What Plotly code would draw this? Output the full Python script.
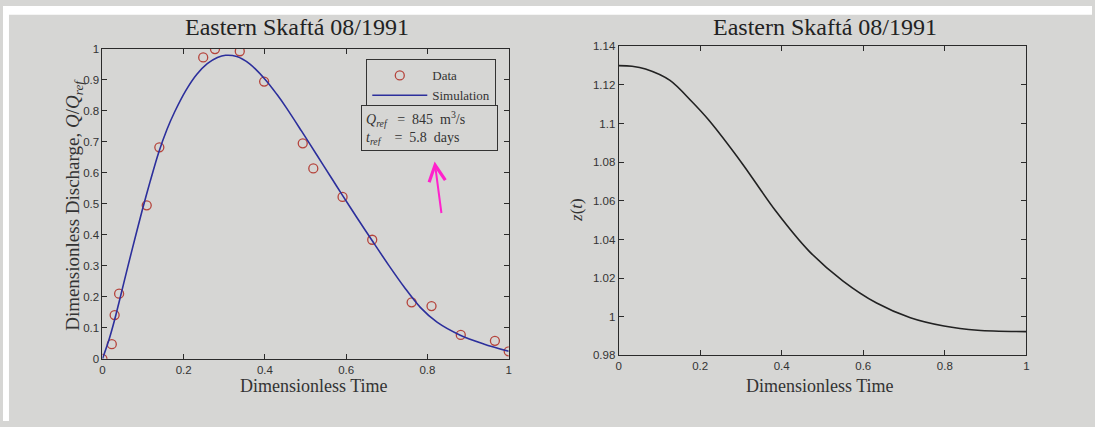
import plotly.graph_objects as go

# ---- data ----
data_t = [0, 0.023, 0.030, 0.041, 0.109, 0.140, 0.248, 0.277, 0.338, 0.398,
          0.493, 0.519, 0.591, 0.664, 0.761, 0.810, 0.882, 0.966, 1.0]
data_q = [0, 0.047, 0.141, 0.210, 0.495, 0.682, 0.972, 0.999, 0.992, 0.894,
          0.695, 0.614, 0.522, 0.384, 0.182, 0.170, 0.077, 0.058, 0.024]

sim_t = [0, 0.0155, 0.029, 0.0413, 0.062, 0.0842, 0.0979, 0.1176, 0.139, 0.1585,
         0.1776, 0.2051, 0.2319, 0.258, 0.283, 0.303, 0.3306, 0.3616, 0.4005,
         0.4293, 0.452, 0.4898, 0.5273, 0.5653, 0.5905, 0.6266, 0.665, 0.704,
         0.7435, 0.783, 0.8235, 0.8807, 0.9383, 1.0]
sim_q = [0, 0.059, 0.121, 0.185, 0.295, 0.410, 0.479, 0.573, 0.668, 0.739,
         0.796, 0.865, 0.917, 0.952, 0.972, 0.979, 0.975, 0.952, 0.901,
         0.853, 0.811, 0.735, 0.658, 0.580, 0.528, 0.455, 0.379, 0.303,
         0.230, 0.165, 0.118, 0.076, 0.048, 0.024]

z_t = [0, 0.033, 0.066, 0.126, 0.18, 0.2215, 0.3025, 0.3845, 0.467, 0.5497,
       0.6327, 0.7155, 0.798, 0.8805, 1.0]
z_v = [1.130, 1.1297, 1.1283, 1.1224, 1.1113, 1.1017, 1.0795, 1.055, 1.034,
       1.0186, 1.0071, 0.9995, 0.9952, 0.993, 0.9923]

x_ticks = [0, 0.2, 0.4, 0.6, 0.8, 1]
x_ticklabels = ["0", "0.2", "0.4", "0.6", "0.8", "1"]
q_ticks = [0, 0.1, 0.2, 0.3, 0.4, 0.5, 0.6, 0.7, 0.8, 0.9, 1]
q_ticklabels = ["0", "0.1", "0.2", "0.3", "0.4", "0.5", "0.6", "0.7", "0.8", "0.9", "1"]
z_ticks = [0.98, 1.0, 1.02, 1.04, 1.06, 1.08, 1.10, 1.12, 1.14]
z_ticklabels = ["0.98", "1", "1.02", "1.04", "1.06", "1.08", "1.1", "1.12", "1.14"]

title_text = "Eastern Skaftá 08/1991"

# ---- figure ----
W, H = 1095, 427
BG = "#d6d6d4"
SERIF = "Liberation Serif"
SANS = "Liberation Sans"

fig = go.Figure()
fig.add_trace(go.Scatter(x=data_t, y=data_q, mode="markers", name="Data",
                         marker=dict(symbol="circle-open", size=9, color="#b5443c",
                                     line=dict(width=1.3, color="#b5443c")),
                         xaxis="x", yaxis="y"))
fig.add_trace(go.Scatter(x=sim_t, y=sim_q, mode="lines", name="Simulation",
                         line=dict(color="#2c2f9c", width=1.6, shape="spline", smoothing=0.9),
                         xaxis="x", yaxis="y"))
fig.add_trace(go.Scatter(x=z_t, y=z_v, mode="lines", showlegend=False,
                         line=dict(color="#222222", width=1.6, shape="spline", smoothing=0.9),
                         xaxis="x2", yaxis="y2"))


def px_x(p):
    return p / W


def px_y(p):
    return 1 - p / H


axis_common = dict(showgrid=False, zeroline=False, showline=True, linecolor="#2a2a2a",
                   linewidth=1, mirror="ticks", ticks="inside", ticklen=5,
                   tickcolor="#2a2a2a", tickfont=dict(family=SANS, size=11.5, color="#333"))

fig.update_layout(
    width=W, height=H,
    margin=dict(l=0, r=0, t=0, b=0),
    paper_bgcolor=BG, plot_bgcolor=BG,
    xaxis=dict(domain=[px_x(100), px_x(508.5)], range=[0, 1], tickvals=x_ticks,
               ticktext=x_ticklabels, anchor="y", **axis_common),
    yaxis=dict(domain=[px_y(363), px_y(44)], range=[0, 1], tickvals=q_ticks,
               ticktext=q_ticklabels, anchor="x", **axis_common),
    xaxis2=dict(domain=[px_x(619), px_x(1029)], range=[0, 1], tickvals=x_ticks,
                ticktext=x_ticklabels, anchor="y2", **axis_common),
    yaxis2=dict(domain=[px_y(359.5), px_y(41.5)], range=[0.98, 1.14], tickvals=z_ticks,
                ticktext=z_ticklabels, anchor="x2", **axis_common),
    showlegend=True,
    legend=dict(x=px_x(496), y=px_y(55), xanchor="right", yanchor="top",
                bgcolor=BG, bordercolor="#333", borderwidth=1,
                font=dict(family=SERIF, size=13, color="#333"),
                tracegroupgap=0, itemwidth=55),
)


def label(text, x, y, size, angle=0, color="#333"):
    return dict(text=text, x=px_x(x), y=px_y(y), xref="paper", yref="paper",
                xanchor="center", yanchor="middle", textangle=angle,
                showarrow=False, font=dict(family=SERIF, size=size, color=color))


ann = [
    label(title_text, 296, 22, 24, color="#222"),
    label(title_text, 827, 22, 24, color="#222"),
    label("Dimensionless Time", 313, 391, 18),
    label("Dimensionless Time", 821, 391, 18),
    label("Dimensionless Discharge, <i>Q</i>/<i>Q<sub>ref</sub></i>", 72, 205, 19, -90),
    label("<i>z</i>(<i>t</i>)", 576, 210, 17, -90),
]
# parameter box
nb = "\u00a0"
box_text = (f"<i>Q<sub>ref</sub></i>{nb*3}={nb*2}845{nb*2}m<sup>3</sup>/s<br>"
            f"<i>t<sub>ref</sub></i>{nb*4}={nb*2}5.8{nb*2}days")
ann.append(dict(text=box_text, x=px_x(360), y=px_y(102), xref="paper", yref="paper",
                xanchor="left", yanchor="top", align="left", showarrow=False,
                width=127, height=36, valign="middle",
                bordercolor="#333", borderwidth=1, borderpad=4, bgcolor=BG,
                font=dict(family=SERIF, size=14, color="#333")))
# hand-drawn magenta arrow
ann.append(dict(text="", x=px_x(434), y=px_y(160), xref="paper", yref="paper",
                showarrow=True, ax=7, ay=53, axref="pixel", ayref="pixel",
                arrowhead=5, arrowsize=1.6, arrowwidth=2, arrowcolor="#ff22cc"))
fig.update_layout(annotations=ann)

# white strips of the photo at top and left edge
fig.update_layout(shapes=[
    dict(type="rect", xref="paper", yref="paper", x0=0, x1=1, y0=px_y(9), y1=1,
         fillcolor="white", line=dict(width=0), layer="below"),
    dict(type="rect", xref="paper", yref="paper", x0=0, x1=px_x(6), y0=0, y1=1,
         fillcolor="white", line=dict(width=0), layer="below"),
])

fig.write_html("out.html",
               config={"displayModeBar": False},
               post_script="document.documentElement.style.margin='0';"
                           "document.body.style.margin='0';"
                           "document.documentElement.style.overflow='hidden';"
                           "document.body.style.overflow='hidden';"
                           "document.documentElement.style.background='" + BG + "';"
                           "document.body.style.background='" + BG + "';")
